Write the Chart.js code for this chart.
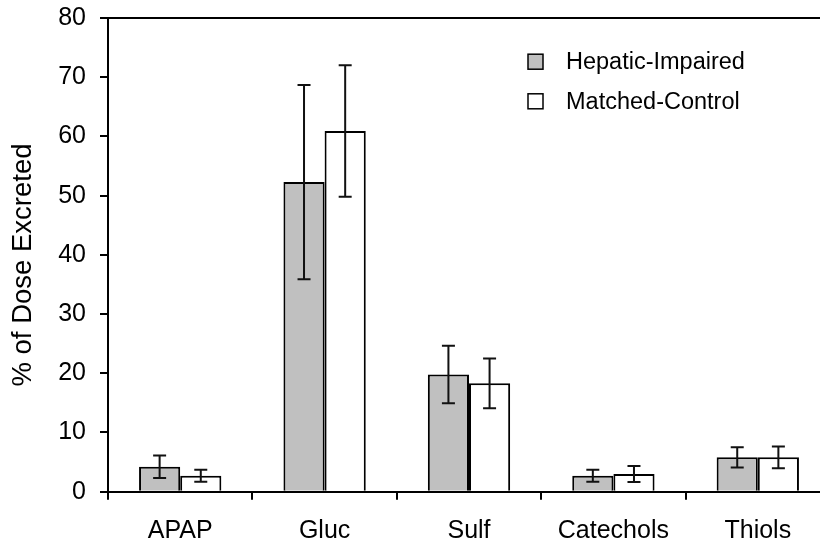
<!DOCTYPE html>
<html>
<head>
<meta charset="utf-8">
<script src="https://cdn.jsdelivr.net/npm/chart.js@4.4.1/dist/chart.umd.min.js"></script>
<style>
    html, body { margin: 0; padding: 0; background: #fff; overflow: hidden; }
    #wrap { width: 820px; height: 545px; overflow: hidden; }
</style>
</head>
<body>
<div id="wrap"><canvas id="chartContainer" width="832" height="545"></canvas></div>
<script>
const categories = ['APAP', 'Gluc', 'Sulf', 'Catechols', 'Thiols'];
const hepaticImpaired = [4.2, 52.3, 19.8, 2.7, 5.8];
const hepaticImpairedErr = [1.9, 16.4, 4.85, 1.0, 1.7];
const matchedControl = [2.7, 60.9, 18.3, 3.0, 5.8];
const matchedControlErr = [1.0, 11.1, 4.2, 1.35, 1.85];
const yMin = 0, yMax = 80, yStep = 10;
const yTitle = '% of Dose Excreted';

const FONT = "'Liberation Sans', Arial, sans-serif";

// vertical error bars with caps, drawn over the bars
const errorBars = {
    id: 'errorBars',
    afterDatasetsDraw(chart) {
        const ctx = chart.ctx;
        const y = chart.scales.y;
        ctx.save();
        ctx.strokeStyle = '#111';
        ctx.lineWidth = 2;
        chart.data.datasets.forEach((ds, i) => {
            const meta = chart.getDatasetMeta(i);
            meta.data.forEach((bar, j) => {
                const v = ds.data[j], e = ds.errors[j];
                const top = y.getPixelForValue(v + e);
                const bot = y.getPixelForValue(v - e);
                const x = bar.x;
                ctx.beginPath();
                ctx.moveTo(x, top); ctx.lineTo(x, bot);
                ctx.moveTo(x - 6.5, top); ctx.lineTo(x + 6.5, top);
                ctx.moveTo(x - 6.5, bot); ctx.lineTo(x + 6.5, bot);
                ctx.stroke();
            });
        });
        ctx.restore();
    }
};

// top frame line, y title and the boxed legend in the upper right
const frameAndLegend = {
    id: 'frameAndLegend',
    afterDraw(chart) {
        const ctx = chart.ctx;
        const area = chart.chartArea;
        ctx.save();
        ctx.strokeStyle = '#000';
        ctx.lineWidth = 2;
        ctx.beginPath();
        ctx.moveTo(area.left - 8, area.top);
        ctx.lineTo(chart.width, area.top);
        ctx.stroke();

        // rotated axis title, sits a little below the axis middle
        ctx.save();
        ctx.translate(23, 265);
        ctx.rotate(-Math.PI / 2);
        ctx.font = `27.5px ${FONT}`;
        ctx.fillStyle = '#000';
        ctx.textAlign = 'center';
        ctx.textBaseline = 'middle';
        ctx.fillText(yTitle, 0, 0);
        ctx.restore();

        ctx.font = `23.5px ${FONT}`;
        ctx.textBaseline = 'middle';
        chart.data.datasets.forEach((ds, i) => {
            const cy = 61.7 + i * 39.6;
            ctx.fillStyle = ds.backgroundColor;
            ctx.fillRect(528, cy - 7.5, 15, 15);
            ctx.lineWidth = 1.5;
            ctx.strokeStyle = '#000';
            ctx.strokeRect(528, cy - 7.5, 15, 15);
            ctx.fillStyle = '#000';
            ctx.fillText(ds.label, 566, cy + 1);
        });
        ctx.restore();
    }
};

const bg = {
    id: 'bg',
    beforeDraw(chart) {
        const ctx = chart.ctx;
        ctx.save();
        ctx.fillStyle = '#fff';
        ctx.fillRect(0, 0, chart.width, chart.height);
        ctx.restore();
    }
};

new Chart(document.querySelector('#chartContainer'), {
    type: 'bar',
    data: {
        labels: categories,
        datasets: [{
            label: 'Hepatic-Impaired',
            data: hepaticImpaired,
            errors: hepaticImpairedErr,
            backgroundColor: '#c0c0c0',
            borderColor: '#000',
            borderWidth: 2
        }, {
            label: 'Matched-Control',
            data: matchedControl,
            errors: matchedControlErr,
            backgroundColor: '#ffffff',
            borderColor: '#000',
            borderWidth: 2
        }]
    },
    options: {
        responsive: false,
        animation: false,
        devicePixelRatio: 1,
        layout: { padding: { top: 18, right: 2, bottom: 0, left: 0 } },
        datasets: {
            bar: { categoryPercentage: 0.57, barPercentage: 1 }
        },
        plugins: {
            legend: { display: false },
            tooltip: { enabled: false }
        },
        scales: {
            x: {
                offset: true,
                grid: {
                    offset: true,
                    drawOnChartArea: false,
                    drawTicks: true,
                    tickLength: 8,
                    color: '#000',
                    lineWidth: 2
                },
                border: { display: true, color: '#000', width: 2 },
                ticks: {
                    color: '#000',
                    padding: 16,
                    maxRotation: 0,
                    font: { family: FONT, size: 25 }
                },
                afterFit(scale) {
                    scale.height = 53.3;
                    scale.paddingLeft = 0;
                    scale.paddingRight = 0;
                }
            },
            y: {
                min: yMin,
                max: yMax,
                grid: {
                    drawOnChartArea: false,
                    drawTicks: true,
                    tickLength: 8,
                    color: '#000',
                    lineWidth: 2
                },
                border: { display: true, color: '#000', width: 2 },
                ticks: {
                    stepSize: yStep,
                    color: '#000',
                    padding: 14,
                    font: { family: FONT, size: 25 }
                },
                afterFit(scale) {
                    scale.width = 108;
                    scale.paddingTop = 0;
                    scale.paddingBottom = 0;
                }
            }
        }
    },
    plugins: [bg, errorBars, frameAndLegend]
});
</script>
</body>
</html>
